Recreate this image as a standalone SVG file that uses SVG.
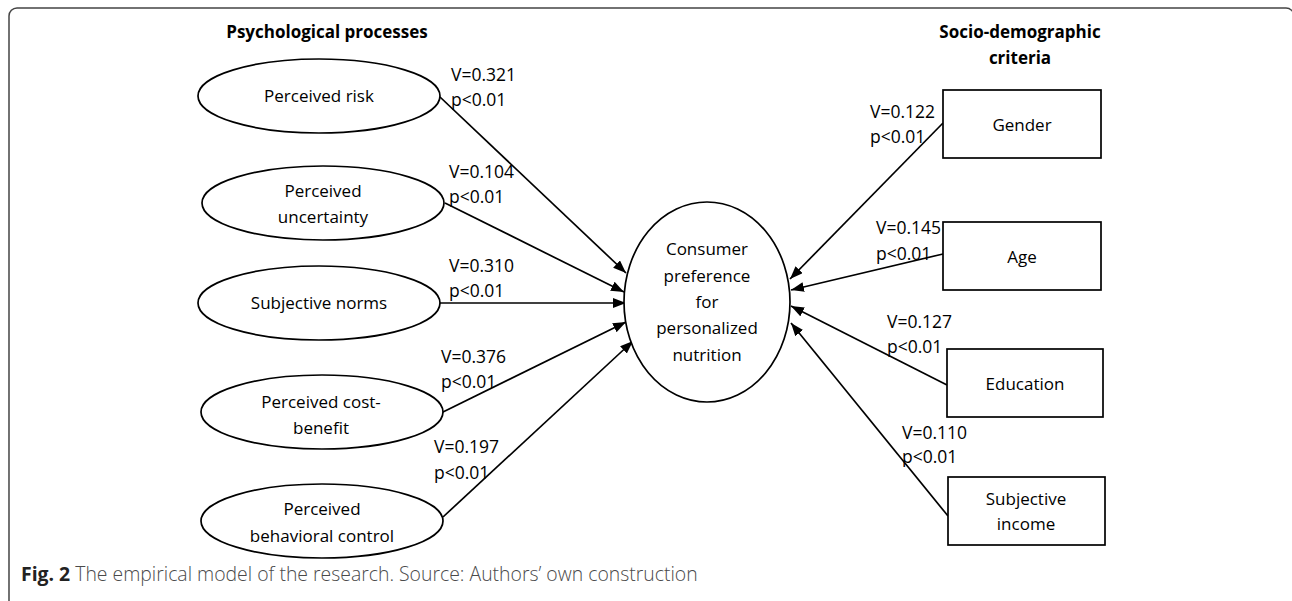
<svg xmlns="http://www.w3.org/2000/svg" width="1292" height="601" viewBox="0 0 1292 601">
<defs>
<marker id="ah" markerUnits="userSpaceOnUse" markerWidth="14" markerHeight="12" refX="13" refY="5" orient="auto">
<path d="M0,0 L13,5 L0,10 z" fill="#000"/>
</marker>
<style>
.node{fill:#fff;stroke:#000;stroke-width:1.7}
.t{font-family:"Open Sans","Liberation Sans",sans-serif;font-size:17px;fill:#000;text-anchor:middle}
.lab{font-family:"Open Sans","Liberation Sans",sans-serif;font-size:17.5px;fill:#000}
.hd{font-family:"Open Sans","Liberation Sans",sans-serif;font-size:17px;font-weight:bold;fill:#000;text-anchor:middle}
.conn line{stroke:#000;stroke-width:1.7;marker-end:url(#ah)}
.cap{font-family:"Open Sans","Liberation Sans",sans-serif;font-size:19.4px;font-weight:300;fill:#4a4a4a}
</style>
</defs>
<rect x="9" y="8" width="1285" height="640" rx="8" fill="#fff" stroke="#444" stroke-width="1.5"/>
<text class="hd" x="327" y="38">Psychological processes</text>
<text class="hd" x="1020" y="38">Socio-demographic</text>
<text class="hd" x="1020" y="64">criteria</text>

<g class="conn" id="connectors">
<line x1="440" y1="97" x2="626" y2="273"/>
<line x1="445" y1="203" x2="624" y2="292"/>
<line x1="440" y1="303" x2="626" y2="303"/>
<line x1="443" y1="412" x2="626" y2="322"/>
<line x1="443" y1="517" x2="633" y2="341"/>
<line x1="943" y1="123" x2="790" y2="279"/>
<line x1="943" y1="254" x2="791" y2="290"/>
<line x1="947" y1="385" x2="791" y2="306"/>
<line x1="948" y1="516" x2="791" y2="323"/>
</g>

<g id="labels">
<text class="lab" x="451" y="81">V=0.321</text><text class="lab" x="451" y="106">p&lt;0.01</text>
<text class="lab" x="449" y="178">V=0.104</text><text class="lab" x="449" y="203">p&lt;0.01</text>
<text class="lab" x="449" y="272">V=0.310</text><text class="lab" x="449" y="297">p&lt;0.01</text>
<text class="lab" x="441" y="363">V=0.376</text><text class="lab" x="441" y="388">p&lt;0.01</text>
<text class="lab" x="434" y="453">V=0.197</text><text class="lab" x="434" y="479">p&lt;0.01</text>
<text class="lab" x="870" y="118">V=0.122</text><text class="lab" x="870" y="143">p&lt;0.01</text>
<text class="lab" x="876" y="234">V=0.145</text><text class="lab" x="876" y="260">p&lt;0.01</text>
<text class="lab" x="887" y="328">V=0.127</text><text class="lab" x="887" y="353">p&lt;0.01</text>
<text class="lab" x="902" y="439">V=0.110</text><text class="lab" x="902" y="463">p&lt;0.01</text>
</g>

<g id="risk"><ellipse class="node" cx="319" cy="96" rx="121" ry="37"/><text class="t" x="319" y="102">Perceived risk</text></g>
<g id="uncertainty"><ellipse class="node" cx="323" cy="203" rx="121" ry="37"/><text class="t" x="323" y="197">Perceived</text><text class="t" x="323" y="223">uncertainty</text></g>
<g id="norms"><ellipse class="node" cx="319" cy="303" rx="121" ry="37"/><text class="t" x="319" y="309">Subjective norms</text></g>
<g id="costbenefit"><ellipse class="node" cx="322" cy="412" rx="121" ry="37"/><text class="t" x="321" y="408">Perceived cost-</text><text class="t" x="321" y="434">benefit</text></g>
<g id="behavioral"><ellipse class="node" cx="322" cy="521" rx="121" ry="37"/><text class="t" x="322" y="515">Perceived</text><text class="t" x="322" y="542">behavioral control</text></g>

<g id="consumer"><ellipse class="node" cx="707" cy="302" rx="83" ry="100"/>
<text class="t" x="707" y="255">Consumer</text><text class="t" x="707" y="282">preference</text><text class="t" x="707" y="308">for</text><text class="t" x="707" y="334">personalized</text><text class="t" x="707" y="361">nutrition</text></g>

<g id="gender"><rect class="node" x="943" y="90" width="158" height="68"/><text class="t" x="1022" y="131">Gender</text></g>
<g id="age"><rect class="node" x="943" y="222" width="158" height="68"/><text class="t" x="1022" y="263">Age</text></g>
<g id="education"><rect class="node" x="947" y="349" width="156" height="68"/><text class="t" x="1025" y="390">Education</text></g>
<g id="income"><rect class="node" x="948" y="477" width="157" height="68"/><text class="t" x="1026" y="505">Subjective</text><text class="t" x="1026" y="530">income</text></g>

<text class="cap" x="21" y="581"><tspan font-weight="bold" fill="#222">Fig. 2</tspan> The empirical model of the research. Source: Authors’ own construction</text>
</svg>
